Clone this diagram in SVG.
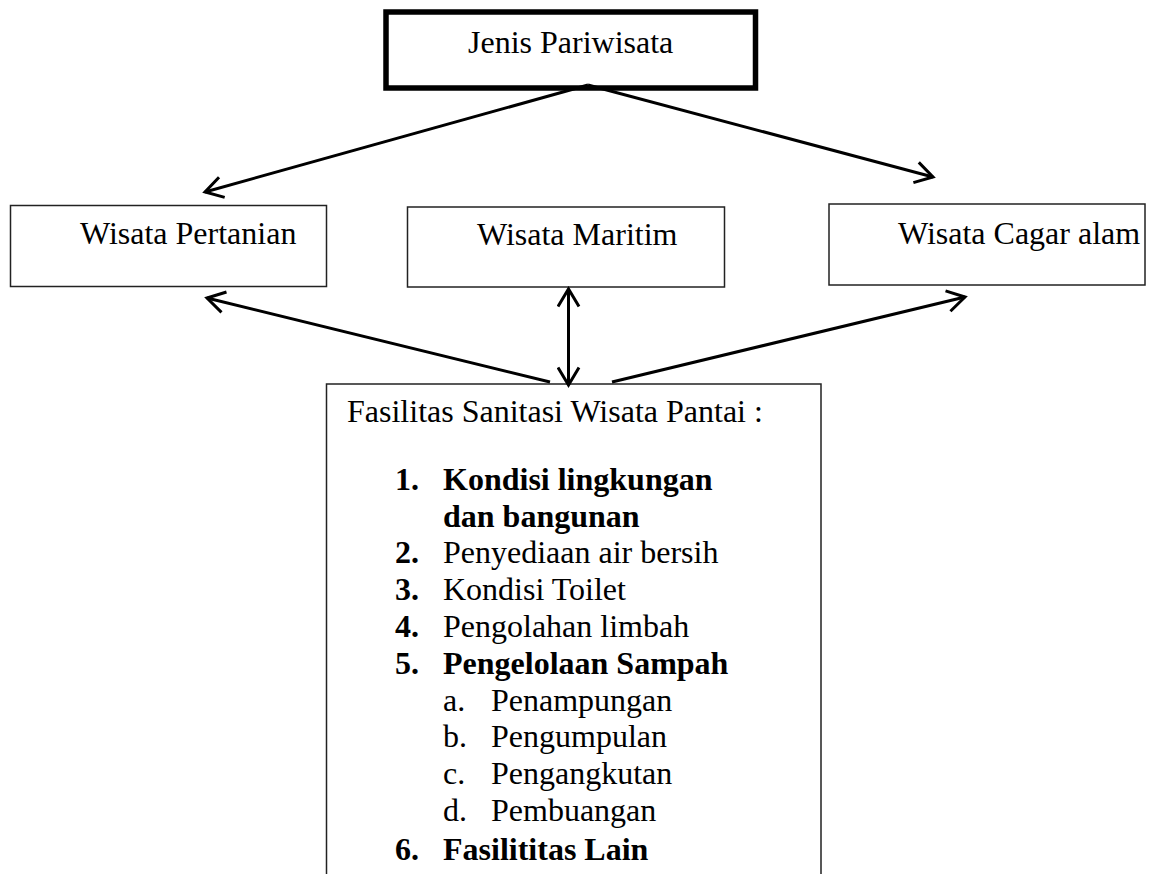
<svg xmlns="http://www.w3.org/2000/svg" width="1152" height="874" viewBox="0 0 1152 874">
  <style>
    .t { font-family: "Liberation Serif", "Times New Roman", serif; font-size: 32px; fill: #000; }
    .b { font-weight: bold; }
    .box { fill: #fff; stroke: #222; stroke-width: 1.5; }
    .conn { stroke: #000; stroke-width: 3; fill: none; }
  </style>
  <defs>
    <marker id="arr" viewBox="0 0 24 24" markerWidth="24" markerHeight="24" refX="20" refY="12" orient="auto-start-reverse" markerUnits="userSpaceOnUse">
      <path d="M2.5,1.5 L20,12 L2.5,22.5" fill="none" stroke="#000" stroke-width="3"/>
    </marker>
  </defs>
  <rect width="1152" height="874" fill="#fff"/>

  <g id="node-jenis">
    <rect x="386" y="12" width="369.5" height="76" fill="#fff" stroke="#000" stroke-width="5.5"/>
    <text class="t" x="468" y="53">Jenis Pariwisata</text>
  </g>

  <g id="node-pertanian">
    <rect class="box" x="10.5" y="205.5" width="316" height="81"/>
    <text class="t" x="80" y="244">Wisata Pertanian</text>
  </g>

  <g id="node-maritim">
    <rect class="box" x="407.5" y="207" width="317" height="80"/>
    <text class="t" x="477" y="245">Wisata Maritim</text>
  </g>

  <g id="node-cagar">
    <rect class="box" x="829" y="204" width="316" height="81"/>
    <text class="t" x="898" y="244">Wisata Cagar alam</text>
  </g>

  <g id="node-fasilitas">
    <path class="box" d="M326.5,880 V384 H821 V880"/>
    <text class="t" x="347" y="422">Fasilitas Sanitasi Wisata Pantai :</text>
    <text class="t b" x="395" y="490">1.</text>
    <text class="t b" x="443" y="490">Kondisi lingkungan</text>
    <text class="t b" x="443" y="527">dan bangunan</text>
    <text class="t b" x="395" y="563">2.</text>
    <text class="t" x="443" y="563">Penyediaan air bersih</text>
    <text class="t b" x="395" y="600">3.</text>
    <text class="t" x="443" y="600">Kondisi Toilet</text>
    <text class="t b" x="395" y="637">4.</text>
    <text class="t" x="443" y="637">Pengolahan limbah</text>
    <text class="t b" x="395" y="674">5.</text>
    <text class="t b" x="443" y="674">Pengelolaan Sampah</text>
    <text class="t" x="443" y="711">a.</text>
    <text class="t" x="491" y="711">Penampungan</text>
    <text class="t" x="443" y="747">b.</text>
    <text class="t" x="491" y="747">Pengumpulan</text>
    <text class="t" x="443" y="784">c.</text>
    <text class="t" x="491" y="784">Pengangkutan</text>
    <text class="t" x="443" y="821">d.</text>
    <text class="t" x="491" y="821">Pembuangan</text>
    <text class="t b" x="395" y="860">6.</text>
    <text class="t b" x="443" y="860">Fasilititas Lain</text>
  </g>

  <g id="connectors">
    <line class="conn" x1="588" y1="85" x2="205" y2="192" marker-end="url(#arr)"/>
    <line class="conn" x1="588" y1="85" x2="933" y2="177" marker-end="url(#arr)"/>
    <line class="conn" x1="550" y1="382" x2="207" y2="298" marker-end="url(#arr)"/>
    <line class="conn" x1="612" y1="382" x2="965" y2="297" marker-end="url(#arr)"/>
    <line class="conn" x1="568.5" y1="289" x2="568.5" y2="385" marker-start="url(#arr)" marker-end="url(#arr)"/>
  </g>
</svg>
